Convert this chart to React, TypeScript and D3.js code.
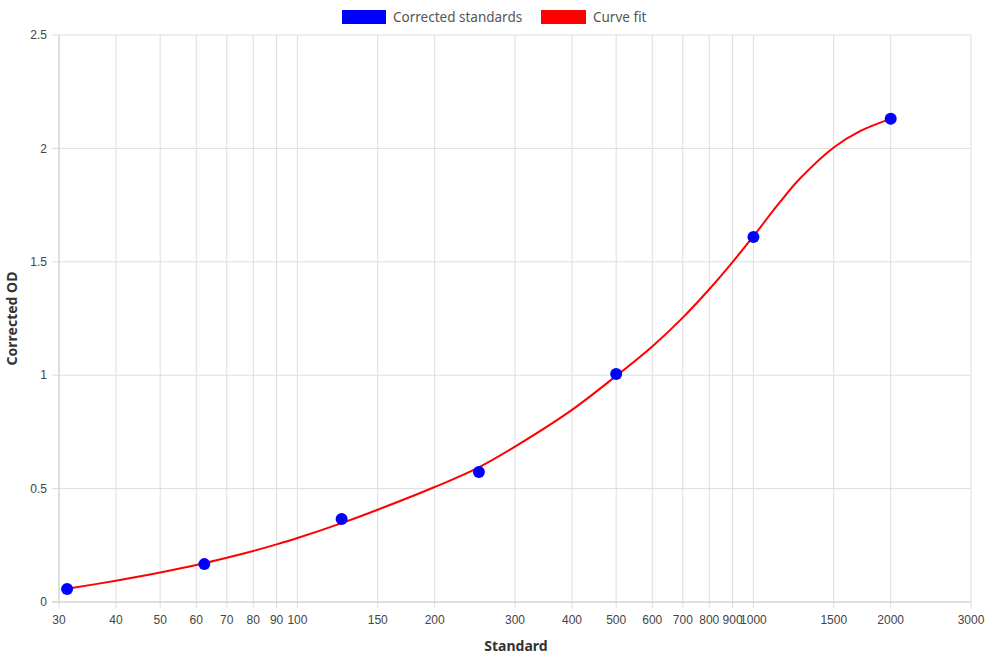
import React from 'react';
import * as d3 from 'd3';

// standards (blue points)
const standardX = [31.25, 62.5, 125, 250, 500, 1000, 2000];
const standardOD = [0.057, 0.167, 0.366, 0.573, 1.005, 1.609, 2.131];

// curve fit
const fitX = [31.25, 40, 50, 60, 70, 80, 90, 100, 125, 150, 200, 250, 300, 400, 500, 600, 700, 800, 900, 1000, 1144, 1265, 1500, 1713, 2000];
const fitOD = [0.058, 0.094, 0.13, 0.163, 0.195, 0.225, 0.254, 0.282, 0.348, 0.407, 0.507, 0.594, 0.685, 0.847, 0.997, 1.127, 1.254, 1.379, 1.499, 1.613, 1.764, 1.867, 2.004, 2.076, 2.13];

const xTicks = [30, 40, 50, 60, 70, 80, 90, 100, 150, 200, 300, 400, 500, 600, 700, 800, 900, 1000, 1500, 2000, 3000];
const yTicks = [0, 0.5, 1, 1.5, 2, 2.5];

const W = 990;
const H = 660;
const m = { left: 59, right: 19, top: 35, bottom: 58 };

export default function App() {
  const x = d3.scaleLog().domain([30, 3000]).range([m.left, W - m.right]);
  const y = d3.scaleLinear().domain([0, 2.5]).range([H - m.bottom, m.top]);

  const line = d3.line<number>()
    .x((d, i) => x(fitX[i]))
    .y(d => y(d))
    .curve(d3.curveCatmullRom.alpha(0.5));

  const tickFont = '"Liberation Sans", Arial, sans-serif';
  const titleFont = '"Noto Sans", "Open Sans", sans-serif';
  const grid = '#dedede';

  return (
    <svg width={W} height={H} style={{ position: 'absolute', left: 0, top: 0, background: '#fff' }}>
      {/* grid */}
      {yTicks.map(t => (
        <line key={'gy' + t} x1={m.left - 7} x2={W - m.right} y1={y(t)} y2={y(t)} stroke={grid} strokeWidth={1} />
      ))}
      {xTicks.map(t => (
        <line key={'gx' + t} x1={x(t)} x2={x(t)} y1={m.top} y2={H - m.bottom + 6} stroke={grid} strokeWidth={1} />
      ))}
      <line x1={m.left} x2={m.left} y1={m.top} y2={H - m.bottom} stroke="#cfcfcf" />
      <line x1={m.left - 7} x2={W - m.right} y1={y(0)} y2={y(0)} stroke="#cfcfcf" />

      {/* tick labels */}
      {yTicks.map(t => (
        <text key={'ly' + t} x={m.left - 12} y={y(t)} dy="0.35em" textAnchor="end" fontSize={12} fontFamily={tickFont} fill="#444">
          {t}
        </text>
      ))}
      {xTicks.map(t => (
        <text key={'lx' + t} x={x(t)} y={H - m.bottom + 22} textAnchor="middle" fontSize={12} fontFamily={tickFont} fill="#444">
          {t}
        </text>
      ))}

      {/* axis titles */}
      <text x={516} y={651} textAnchor="middle" fontSize={14} fontWeight="bold" fontFamily={titleFont} fill="#333">Standard</text>
      <text transform={`translate(17,${(m.top + H - m.bottom) / 2}) rotate(-90)`} textAnchor="middle" fontSize={14} fontWeight="bold" fontFamily={titleFont} fill="#333">Corrected OD</text>

      {/* curve fit */}
      <path d={line(fitOD) || ''} fill="none" stroke="red" strokeWidth={2} />

      {/* standards */}
      {standardX.map((s, i) => (
        <circle key={'p' + s} cx={x(s)} cy={y(standardOD[i])} r={6} fill="blue" />
      ))}

      {/* legend */}
      <rect x={342} y={10} width={44} height={14} fill="blue" />
      <text x={393} y={17} dy="0.35em" fontSize={13.5} fontFamily={titleFont} fill="#555">Corrected standards</text>
      <rect x={541} y={10} width={45} height={14} fill="red" />
      <text x={593} y={17} dy="0.35em" fontSize={13.5} fontFamily={titleFont} fill="#555">Curve fit</text>
    </svg>
  );
}
